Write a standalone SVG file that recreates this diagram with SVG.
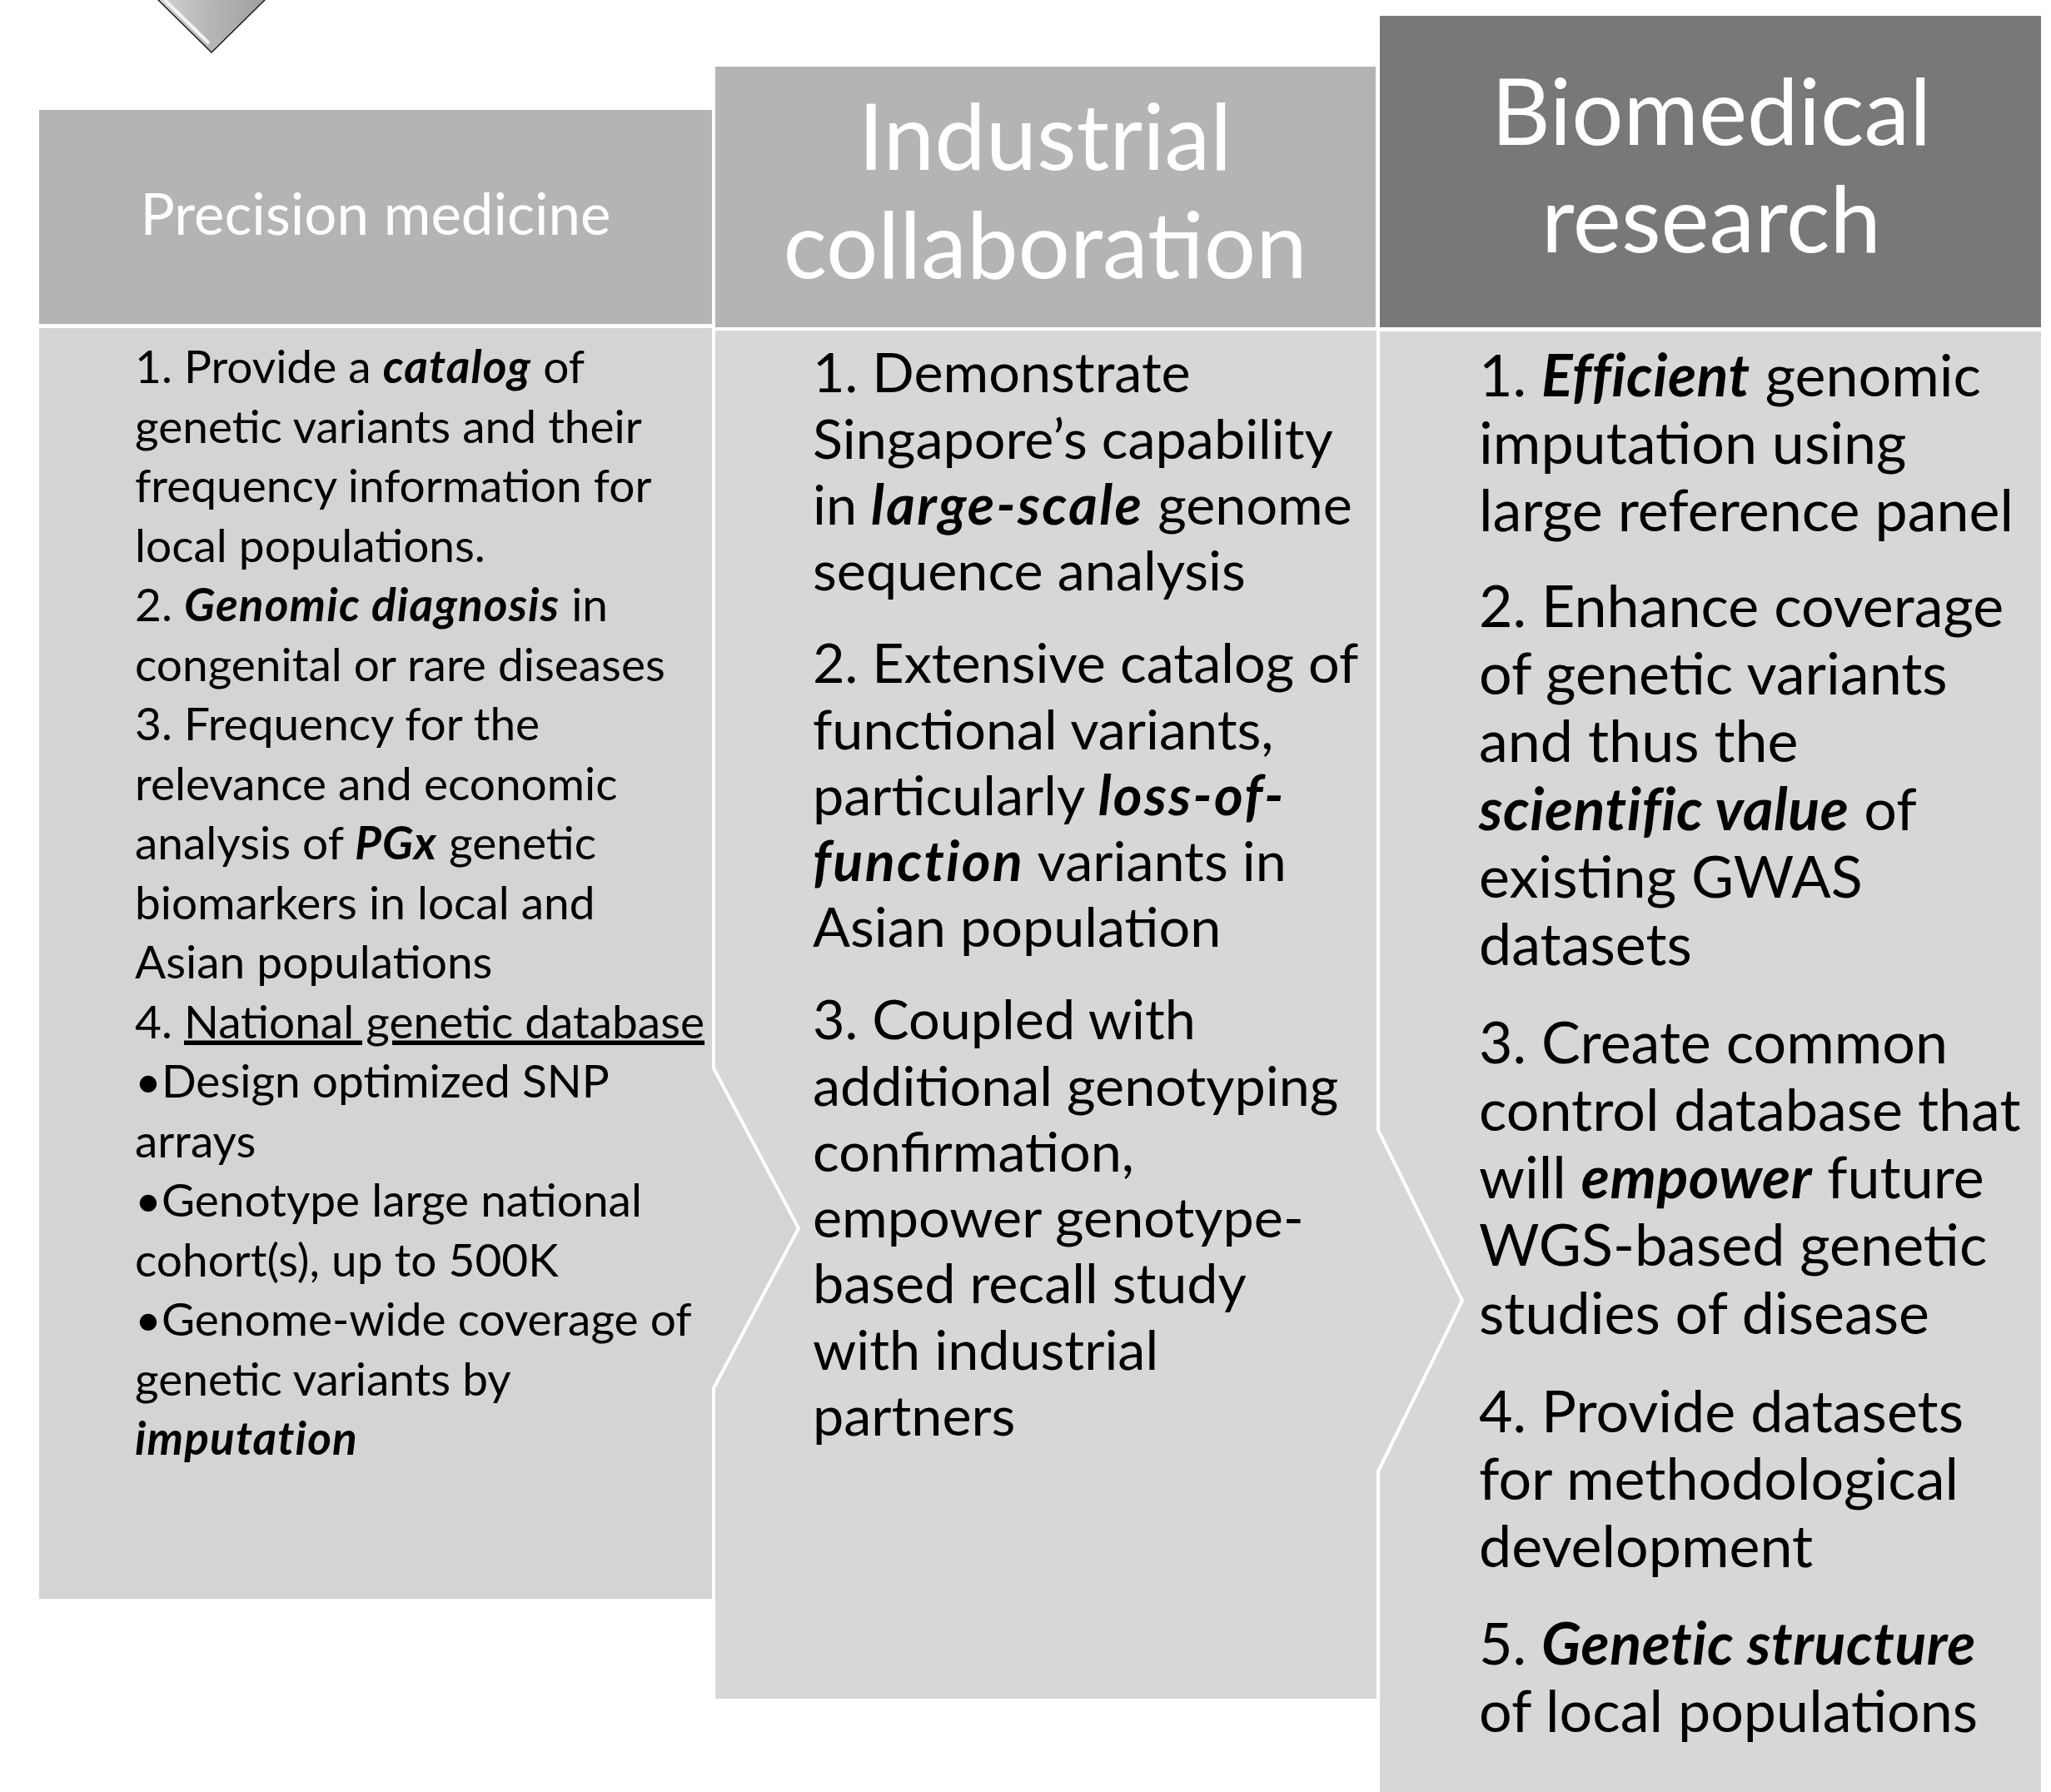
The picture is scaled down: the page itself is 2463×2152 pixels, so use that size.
<svg xmlns="http://www.w3.org/2000/svg" width="2463" height="2152" viewBox="0 0 2463 2152">
  <defs>
    <linearGradient id="tipFill" x1="0" y1="0" x2="1" y2="0">
      <stop offset="0" stop-color="#d6d6d6"/>
      <stop offset="0.45" stop-color="#b8b8b8"/>
      <stop offset="1" stop-color="#9e9e9e"/>
    </linearGradient>
    <style>
      .hdr-light { fill: #b4b4b4; }
      .hdr-dark { fill: #787878; }
      .body-a { fill: #d4d4d4; }
      .body-b { fill: #d7d7d7; }
      .hdr-text { font-family: Lato, "Open Sans", sans-serif; fill: #ffffff; text-anchor: middle; }
      .txt { font-family: Lato, "Open Sans", sans-serif; fill: #000000; }
      .t-left { font-size: 55px; }
      .t-mid { font-size: 66.5px; }
      .t-right { font-size: 70px; }
      .bi { font-weight: bold; font-style: italic; }
      .t-left .bi { letter-spacing: 0.02em; }
      .t-mid .bi { letter-spacing: 0.035em; }
      .t-right .bi { letter-spacing: 0.008em; }
      .ul { text-decoration: underline; }
      .sep { fill: none; stroke: #ffffff; stroke-width: 4; stroke-linejoin: miter; }
    </style>
  </defs>

  <rect width="2463" height="2152" fill="#ffffff"/>

  <!-- partial diamond marker at the top left -->
  <g id="top-marker">
    <polygon points="186,-4 322,-4 254,63" fill="url(#tipFill)" stroke="#1a1a1a" stroke-width="1.5"/>
    <polyline points="198,0 251,52" fill="none" stroke="#f4f4f4" stroke-width="4"/>
  </g>

  <!-- stage 3 -->
  <g id="biomedical-research">
    <rect class="hdr-dark" x="1657" y="19" width="794" height="374"/>
    <text class="hdr-text" x="2055" y="174" font-size="110">Biomedical</text>
    <text class="hdr-text" x="2055" y="303" font-size="110">research</text>
    <rect class="body-b" x="1657" y="398" width="794" height="1760"/>
    <g class="txt t-right">
      <text x="1776" y="476">1. <tspan class="bi">Efficient</tspan> genomic</text>
      <text x="1776" y="557">imputation using</text>
      <text x="1776" y="638">large reference panel</text>
      <text x="1776" y="753">2. Enhance coverage</text>
      <text x="1776" y="834">of genetic variants</text>
      <text x="1776" y="915">and thus the</text>
      <text x="1776" y="997"><tspan class="bi">scientific value</tspan> of</text>
      <text x="1776" y="1078">existing GWAS</text>
      <text x="1776" y="1159">datasets</text>
      <text x="1776" y="1277">3. Create common</text>
      <text x="1776" y="1358">control database that</text>
      <text x="1776" y="1439">will <tspan class="bi">empower</tspan> future</text>
      <text x="1776" y="1520">WGS-based genetic</text>
      <text x="1776" y="1602">studies of disease</text>
      <text x="1776" y="1720">4. Provide datasets</text>
      <text x="1776" y="1801">for methodological</text>
      <text x="1776" y="1882">development</text>
      <text x="1776" y="1999">5. <tspan class="bi">Genetic structure</tspan></text>
      <text x="1776" y="2080">of local populations</text>
    </g>
  </g>

  <!-- stage 2 -->
  <g id="industrial-collaboration">
    <rect class="hdr-light" x="859" y="80" width="793" height="313"/>
    <text class="hdr-text" x="1255" y="204" font-size="110">Industrial</text>
    <text class="hdr-text" x="1255" y="334" font-size="110">collaboration</text>
    <polygon class="body-b" points="859,397 1655,397 1655,1357 1756,1562 1655,1767 1655,2040 859,2040"/>
    <g class="txt t-mid">
      <text x="976" y="471">1. Demonstrate</text>
      <text x="976" y="551">Singapore’s capability</text>
      <text x="976" y="630">in <tspan class="bi">large-scale</tspan> genome</text>
      <text x="976" y="709">sequence analysis</text>
      <text x="976" y="820">2. Extensive catalog of</text>
      <text x="976" y="900">functional variants,</text>
      <text x="976" y="979">particularly <tspan class="bi">loss-of-</tspan></text>
      <text x="976" y="1058"><tspan class="bi">function</tspan> variants in</text>
      <text x="976" y="1137">Asian population</text>
      <text x="976" y="1248">3. Coupled with</text>
      <text x="976" y="1328">additional genotyping</text>
      <text x="976" y="1407">confirmation,</text>
      <text x="976" y="1486">empower genotype-</text>
      <text x="976" y="1565">based recall study</text>
      <text x="976" y="1645">with industrial</text>
      <text x="976" y="1724">partners</text>
    </g>
  </g>

  <!-- stage 1 -->
  <g id="precision-medicine">
    <rect class="hdr-light" x="47" y="132" width="808" height="257"/>
    <text class="hdr-text" x="451" y="282" font-size="69">Precision medicine</text>
    <polygon class="body-a" points="47,394 857,394 857,1283 959,1475 857,1667 857,1920 47,1920"/>
    <g class="txt t-left">
      <text x="162" y="460">1. Provide a <tspan class="bi">catalog</tspan> of</text>
      <text x="162" y="531.5">genetic variants and their</text>
      <text x="162" y="603">frequency information for</text>
      <text x="162" y="674.5">local populations.</text>
      <text x="162" y="746">2. <tspan class="bi">Genomic diagnosis</tspan> in</text>
      <text x="162" y="817.5">congenital or rare diseases</text>
      <text x="162" y="889">3. Frequency for the</text>
      <text x="162" y="960.5">relevance and economic</text>
      <text x="162" y="1032">analysis of <tspan class="bi">PGx</tspan> genetic</text>
      <text x="162" y="1103.5">biomarkers in local and</text>
      <text x="162" y="1175">Asian populations</text>
      <text x="162" y="1246.5">4. <tspan class="ul">National genetic database</tspan></text>
      <text x="162" y="1318">•Design optimized SNP</text>
      <text x="162" y="1389.5">arrays</text>
      <text x="162" y="1461">•Genotype large national</text>
      <text x="162" y="1532.5">cohort(s), up to 500K</text>
      <text x="162" y="1604">•Genome-wide coverage of</text>
      <text x="162" y="1675.5">genetic variants by</text>
      <text x="162" y="1747"><tspan class="bi">imputation</tspan></text>
    </g>
  </g>

  <!-- chevron separators showing the flow from one stage to the next -->
  <g id="connectors">
    <polyline class="sep" points="857,392 857,1283 959,1475 857,1667 857,1922"/>
    <polyline class="sep" points="1655,395 1655,1357 1756,1562 1655,1767 1655,2042"/>
  </g>
</svg>
